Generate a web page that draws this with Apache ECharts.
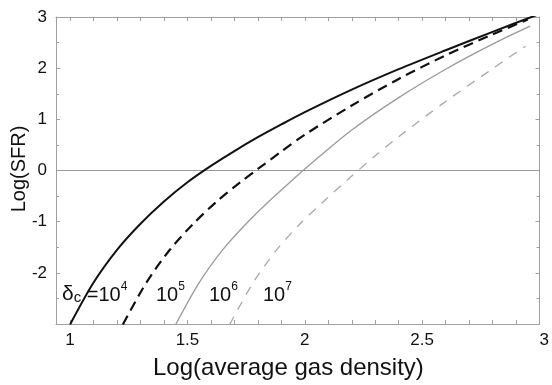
<!DOCTYPE html>
<html>
<head>
<meta charset="utf-8">
<script src="https://cdn.jsdelivr.net/npm/echarts@6/dist/echarts.min.js"></script>
<style>
  html, body { margin: 0; padding: 0; background: #fff; }
  #chart { width: 552px; height: 385px; }
</style>
</head>
<body>
<div id="chart"></div>
<script>
// tick positions
const xLabelTicks = [1, 1.5, 2, 2.5, 3]
const xSmallTicks = [1, 1.1, 1.2, 1.3, 1.4, 1.5, 1.6, 1.7, 1.8, 1.9, 2, 2.1, 2.2, 2.3, 2.4, 2.5, 2.6, 2.7, 2.8, 2.9, 3]

// delta_c = 10^4 (solid black)
const d4X = [1.0, 1.1, 1.2, 1.3, 1.4, 1.5, 1.6, 1.7, 1.8, 1.9, 2.0, 2.2, 2.4, 2.6, 2.8, 3.0]
const d4Y = [-3.01, -2.19, -1.55, -1.04, -0.605, -0.23, 0.09, 0.38, 0.65, 0.90, 1.14, 1.58, 1.98, 2.35, 2.71, 3.06]
// delta_c = 10^5 (dashed black)
const d5X = [1.225, 1.325, 1.425, 1.525, 1.625, 1.725, 1.8, 1.9, 2.0, 2.2, 2.4, 2.6, 2.8, 2.95]
const d5Y = [-3.01, -2.19, -1.55, -1.04, -0.605, -0.23, 0.03, 0.37, 0.70, 1.27, 1.79, 2.25, 2.66, 2.95]
// delta_c = 10^6 (solid grey)
const d6X = [1.45, 1.55, 1.65, 1.75, 1.85, 1.95, 2.0, 2.2, 2.4, 2.6, 2.8, 2.96]
const d6Y = [-3.01, -2.19, -1.55, -1.04, -0.59, -0.175, 0.03, 0.79, 1.425, 1.98, 2.47, 2.82]
// delta_c = 10^7 (dashed grey)
const d7X = [1.68, 1.78, 1.88, 1.98, 2.08, 2.18, 2.3, 2.4, 2.6, 2.8, 2.94]
const d7Y = [-3.01, -2.19, -1.55, -1.04, -0.605, -0.19, 0.29, 0.66, 1.35, 1.99, 2.43]

const zip = (xs, ys) => xs.map((x, i) => [x, ys[i]])

const font = '"Liberation Sans", Arial, sans-serif'
const frame = '#a0a0a0'

const chart = echarts.init(document.getElementById('chart'))

const lineSeries = (name, xs, ys, color, width, type) => ({
  name,
  type: 'line',
  data: zip(xs, ys),
  xAxisIndex: 0,
  yAxisIndex: 0,
  showSymbol: false,
  smooth: 0.3,
  silent: true,
  lineStyle: { color, width, type },
  z: 3,
})

const xAxisBase = (position) => ({
  type: 'value',
  min: 0.94,
  max: 3,
  position,
  axisLine: { onZero: false, lineStyle: { color: frame, width: 1 } },
  axisTick: { inside: true, length: 4, customValues: xSmallTicks, lineStyle: { color: frame } },
  splitLine: { show: false },
})

const yAxisBase = (position) => ({
  type: 'value',
  min: -3,
  max: 3,
  interval: 1,
  position,
  axisLine: { show: true, onZero: false, lineStyle: { color: frame, width: 1 } },
  axisTick: { show: true, inside: true, length: 4, lineStyle: { color: frame } },
  minorTick: { show: true, splitNumber: 2, length: 3, lineStyle: { color: frame } },
  splitLine: { show: false },
})

chart.setOption({
  animation: false,
  textStyle: { fontFamily: font },
  grid: { left: 56, right: 1, top: 17, bottom: 61 },
  xAxis: [
    {
      ...xAxisBase('bottom'),
      axisLabel: {
        customValues: xLabelTicks,
        color: '#111',
        fontSize: 17,
        margin: 8,
        alignMaxLabel: 'left',
      },
    },
    { ...xAxisBase('top'), axisLabel: { show: false } },
  ],
  yAxis: [
    {
      ...yAxisBase('left'),
      axisLabel: {
        color: '#111',
        fontSize: 17,
        margin: 9,
        formatter: (v) => (v === -3 ? '' : String(v)),
      },
    },
    { ...yAxisBase('right'), axisLabel: { show: false } },
  ],
  series: [
    {
      ...lineSeries('1e4', d4X, d4Y, '#111', 2, 'solid'),
      markLine: {
        silent: true,
        symbol: ['none', 'none'],
        label: { show: false },
        lineStyle: { color: '#999', width: 1, type: 'solid' },
        data: [{ yAxis: 0 }],
        z: 1,
      },
    },
    lineSeries('1e5', d5X, d5Y, '#111', 2.2, [10, 6]),
    lineSeries('1e6', d6X, d6Y, '#9a9a9a', 1.3, 'solid'),
    lineSeries('1e7', d7X, d7Y, '#a8a8a8', 1.3, [9, 8]),
  ],
  graphic: [
    {
      type: 'text',
      left: 153,
      top: 356,
      style: { text: 'Log(average gas density)', fontSize: 24, fontFamily: font, fill: '#111' },
    },
    {
      type: 'text',
      x: 19,
      y: 169,
      rotation: Math.PI / 2,
      style: {
        text: 'Log(SFR)',
        fontSize: 20,
        fontFamily: font,
        fill: '#111',
        align: 'center',
        verticalAlign: 'middle',
      },
    },
    {
      type: 'text',
      x: 62,
      y: 293,
      style: {
        text: '{d|δ}{c|c}{n| =10}{s|4}',
        fontFamily: font,
        fill: '#111',
        verticalAlign: 'middle',
        rich: {
          d: { fontSize: 21, fontFamily: font, lineHeight: 24, verticalAlign: 'bottom' },
          c: { fontSize: 15, fontFamily: font, lineHeight: 22, verticalAlign: 'bottom' },
          n: { fontSize: 20, fontFamily: font, lineHeight: 24, verticalAlign: 'bottom' },
          s: { fontSize: 12, fontFamily: font, lineHeight: 24, verticalAlign: 'top' },
        },
      },
    },
    ...[['156', '5'], ['209', '6'], ['263', '7']].map(([x, p]) => ({
      type: 'text',
      x: Number(x),
      y: 293,
      style: {
        text: '{n|10}{s|' + p + '}',
        fontFamily: font,
        fill: '#111',
        verticalAlign: 'middle',
        rich: {
          n: { fontSize: 20, fontFamily: font, lineHeight: 24, verticalAlign: 'bottom' },
          s: { fontSize: 12, fontFamily: font, lineHeight: 24, verticalAlign: 'top' },
        },
      },
    })),
  ],
})
</script>
</body>
</html>
